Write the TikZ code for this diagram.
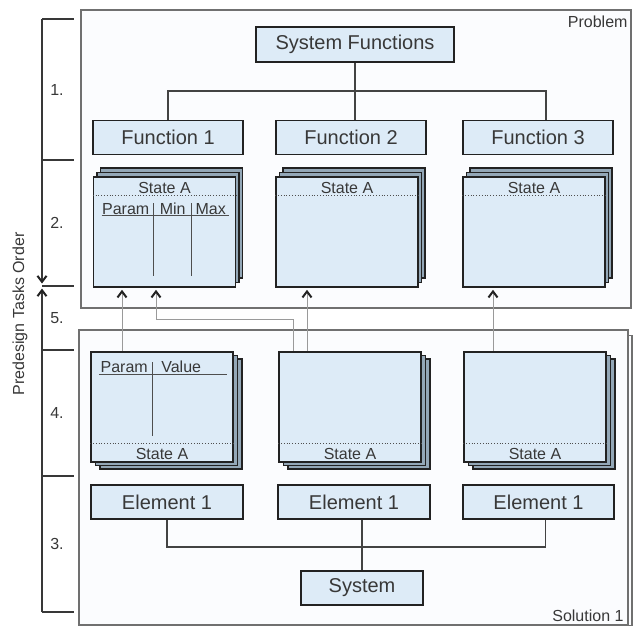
\documentclass[tikz,border=0pt]{standalone}
\usepackage{fontspec}
\setmainfont{Liberation Sans}
\usetikzlibrary{arrows.meta,calc}
\definecolor{pdblue}{HTML}{DDEBF7}
\definecolor{pddark}{HTML}{222222}
\definecolor{pdgrey}{HTML}{707070}
\definecolor{pdpage}{HTML}{93A7B7}
\definecolor{pdpanel}{HTML}{FBFCFE}
\definecolor{pdline}{HTML}{9A9A9A}
\tikzset{
  panel/.style={draw=pdgrey,fill=pdpanel,line width=1.4pt,inner sep=0pt},
  fbox/.style={draw=pddark,fill=pdblue,line width=1.8pt,minimum height=34pt,
               inner sep=0pt,font=\fontsize{20}{24}\selectfont,text=pddark!90},
  sheet/.style={draw=pddark,fill=pdblue,line width=1.6pt,minimum width=142pt,
                minimum height=110pt,inner sep=0pt},
  backsheet/.style={sheet,fill=pdpage},
  tree/.style={draw=pddark!85,line width=1.3pt},
  tip/.style={-{Straight Barb[length=6pt,width=9pt,line width=2pt,color=pddark]}},
  flow/.style={draw=pdline,line width=1pt,tip,shorten >=2pt},
  txt/.style={font=\fontsize{16}{19}\selectfont,text=pddark!90,inner sep=1pt},
  sep/.style={pddark!80,line width=0.8pt,dotted},
  col/.style={pddark!80,line width=1pt},
  ord/.style={draw=pddark!90,line width=1.5pt},
}
\begin{document}
\begin{tikzpicture}[x=1pt,y=-1pt]
  \useasboundingbox (0,0) rectangle (633,626);
  % problem / solution panels
  \node[panel,minimum width=550pt,minimum height=298pt] (prob) at (356,159) {};
  \node[panel,minimum width=545pt,minimum height=290pt] (solb) at (359.5,480.5) {};
  \node[panel,minimum width=549pt,minimum height=295pt] (sol) at (353.5,477.5) {};
  \node[txt,anchor=north east] (probl) at ([xshift=-3pt,yshift=-5pt]prob.north east) {Problem};
  \node[txt,anchor=south east] (soll) at ([xshift=-4pt,yshift=3pt]sol.south east) {Solution 1};

  % functions
  \node[fbox,minimum width=198pt,minimum height=35pt] (sf) at (355,44.5) {System Functions};
  \node[fbox,minimum width=150pt] (f1) at (168,137.5) {Function 1};
  \node[fbox,minimum width=150pt] (f2) at (351,137.5) {Function 2};
  \node[fbox,minimum width=150pt] (f3) at (538,137.5) {Function 3};
  \coordinate (bus1) at (355,91);
  \coordinate (j3) at ([xshift=8pt]f3.north);
  \draw[tree] (sf.south) -- (sf.south |- f2.north);
  \draw[tree] (f1.north) |- (bus1) -| (j3);

  % states of the functions
  \foreach \n/\x in {t1/164.5,t2/347,t3/534}{
    \node[backsheet] at (\x+7,223) {};
    \node[backsheet] at (\x+3.5,227.5) {};
    \node[sheet] (\n) at (\x,232) {};
    \node[txt] at ([yshift=-12pt]\n.north) {State A};
    \draw[sep] ([yshift=-19pt]\n.north west) -- ([yshift=-19pt]\n.north east);
  }
  \node[txt] at ($(t1.north west)+(33,33)$) {Param};
  \node[txt] at ($(t1.north west)+(80,33)$) {Min};
  \node[txt] at ($(t1.north west)+(118,33)$) {Max};
  \draw[col] ($(t1.north west)+(9,39)$) -- ($(t1.north west)+(136,39)$);
  \draw[col] ($(t1.north west)+(61,27)$) -- ($(t1.north west)+(61,100)$);
  \draw[col] ($(t1.north west)+(99,27)$) -- ($(t1.north west)+(99,100)$);

  % states of the elements
  \foreach \n/\x in {s1/162,s2/350,s3/535}{
    \node[backsheet] at (\x+9,414) {};
    \node[backsheet] at (\x+4.5,410.5) {};
    \node[sheet] (\n) at (\x,407) {};
    \node[txt] at ([yshift=9pt]\n.south) {State A};
    \draw[sep] ([yshift=19pt]\n.south west) -- ([yshift=19pt]\n.south east);
  }
  \node[txt] at ($(s1.north west)+(34,16)$) {Param};
  \node[txt] at ($(s1.north west)+(91,16)$) {Value};
  \draw[col] ($(s1.north west)+(9,23)$) -- ($(s1.north west)+(137,23)$);
  \draw[col] ($(s1.north west)+(62,11)$) -- ($(s1.north west)+(62,85)$);

  % elements
  \node[fbox,minimum width=152pt] (e1) at (167,502) {Element 1};
  \node[fbox,minimum width=152pt] (e2) at (354,502) {Element 1};
  \node[fbox,minimum width=151pt] (e3) at (538.5,502) {Element 1};
  \node[fbox,minimum width=122pt] (sys) at (362,588) {System};
  \coordinate (bus2) at (362,547);
  \coordinate (j6) at ([xshift=7pt]e3.south);
  \draw[tree] (sys.north) -- (sys.north |- e2.south);
  \draw[tree] (e1.south) |- (bus2) -| (j6);

  % mapping between states
  \coordinate (mid) at ($(prob.south)!0.5!(sol.north)$);
  \coordinate (a1) at ([xshift=-40pt]s1.north);
  \coordinate (a2) at ([xshift=-57pt]s2.north);
  \coordinate (a2t) at ([xshift=-8.5pt]t1.south);
  \coordinate (a3) at ([xshift=-43pt]s2.north);
  \coordinate (a4) at ([xshift=-42pt]s3.north);
  \draw[flow] (a1) -- (a1 |- t1.south);
  \draw[flow] (a2) -- (a2 |- mid) -| (a2t);
  \draw[flow] (a3) -- (a3 |- t2.south);
  \draw[flow] (a4) -- (a4 |- t3.south);

  % task order
  \foreach \n/\y in {k0/19,k1/160,k2/286,k3/350,k4/476,k5/612}{
    \coordinate (\n) at (42,\y);
    \draw[ord] (\n) -- ++(32,0);
  }
  \draw[ord,tip,shorten >=2.5pt] (k0) -- (k2);
  \draw[ord,tip,shorten >=2.5pt] (k5) -- (k2);
  \foreach \a/\b/\lb in {k0/k1/1.,k1/k2/2.,k2/k3/5.,k3/k4/4.,k4/k5/3.}
    {\node[txt,xshift=15pt] at ($(\a)!0.5!(\b)$) {\lb};}
  \node[txt,rotate=90] (ordl) at (20,314) {Predesign Tasks Order};
\end{tikzpicture}
\end{document}
